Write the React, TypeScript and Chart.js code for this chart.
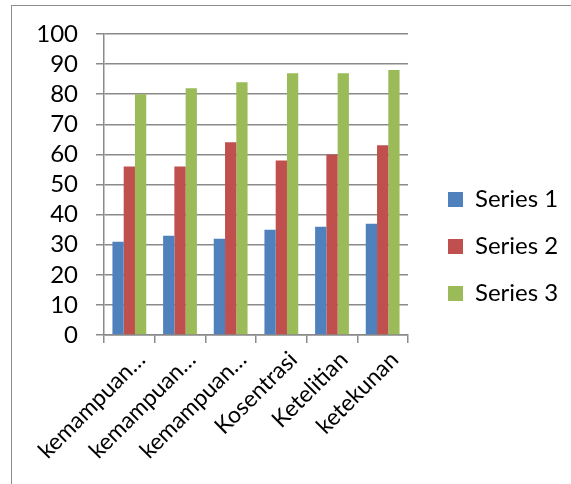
import React, { useEffect, useRef } from "react";
import { Chart, registerables } from "chart.js";

Chart.register(...registerables);

const categories = ["kemampuan…", "kemampuan…", "kemampuan…", "Kosentrasi", "Ketelitian", "ketekunan"];
const series1 = [31, 33, 32, 35, 36, 37];
const series2 = [56, 56, 64, 58, 60, 63];
const series3 = [80, 82, 84, 87, 87, 88];
const seriesNames = ["Series 1", "Series 2", "Series 3"];
const seriesColors = ["#4F81BD", "#C0504D", "#9BBB59"];
const yMin = 0;
const yMax = 100;
const yStep = 10;

const FONT = "Lato, 'Open Sans', sans-serif";
const GRID = "#8a8a8a";
const LEGEND_GAP = 17;

const legendShift = {
  id: "legendShift",
  afterLayout(chart: any) {
    const lg = chart.legend;
    if (!lg) return;
    lg.left += LEGEND_GAP;
    lg.right += LEGEND_GAP;
  },
};

export default function App() {
  const ref = useRef<HTMLCanvasElement | null>(null);

  useEffect(() => {
    if (!ref.current) return;
    const values = [series1, series2, series3];
    const chart = new Chart(ref.current, {
      type: "bar",
      data: {
        labels: categories,
        datasets: values.map((v, i) => ({
          label: seriesNames[i],
          data: v,
          backgroundColor: seriesColors[i],
          borderWidth: 0,
          categoryPercentage: 0.667,
          barPercentage: 1,
        })),
      },
      plugins: [legendShift],
      options: {
        animation: false,
        responsive: true,
        maintainAspectRatio: false,
        layout: { padding: { top: 34, bottom: 25, left: 0, right: 0 } },
        plugins: {
          tooltip: { enabled: false },
          legend: {
            position: "right",
            align: "center",
            labels: {
              boxWidth: 15,
              boxHeight: 15,
              padding: 23,
              color: "#000",
              font: { family: FONT, size: 24 },
            },
          },
        },
        scales: {
          x: {
            grid: {
              display: true,
              drawOnChartArea: false,
              drawTicks: true,
              tickLength: 8,
              color: GRID,
              lineWidth: 1.5,
              offset: true,
            },
            border: { display: true, color: GRID, width: 1.5 },
            ticks: {
              autoSkip: false,
              maxRotation: 45,
              minRotation: 45,
              padding: 3,
              labelOffset: 12,
              color: "#000",
              font: { family: FONT, size: 23 },
            },
            afterFit: (scale: any) => {
              scale.height = 124;
              scale.paddingLeft = 0;
              scale.paddingRight = 163;
            },
          },
          y: {
            min: yMin,
            max: yMax,
            ticks: {
              stepSize: yStep,
              autoSkip: false,
              padding: 18,
              color: "#000",
              font: { family: FONT, size: 24, lineHeight: 1 },
            },
            grid: {
              color: GRID,
              lineWidth: 1.5,
              tickLength: 8,
            },
            border: { display: true, color: GRID, width: 1.5 },
            afterFit: (scale: any) => {
              scale.width = 104;
              scale.paddingTop = 0;
              scale.paddingBottom = 0;
            },
          },
        },
      },
    });
    return () => chart.destroy();
  }, []);

  return (
    <>
      <div
        style={{
          position: "absolute",
          left: 11,
          top: 5,
          width: 620,
          height: 520,
          border: "1.5px solid #8c8c8c",
          boxSizing: "border-box",
        }}
      />
      <div style={{ position: "absolute", left: 0, top: 0, width: 571, height: 484 }}>
        <canvas ref={ref} />
      </div>
    </>
  );
}
